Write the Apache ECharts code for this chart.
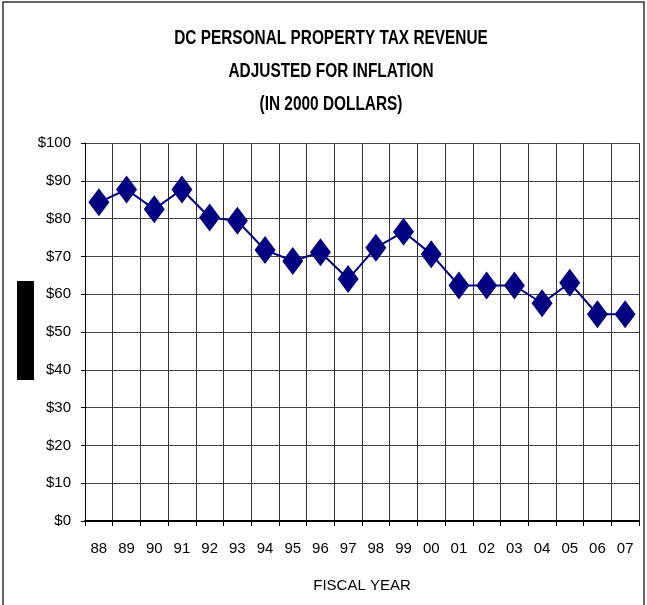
<!DOCTYPE html>
<html>
<head>
<meta charset="utf-8">
<script src="https://cdn.jsdelivr.net/npm/echarts@6/dist/echarts.min.js"></script>
<style>
  html, body { margin: 0; padding: 0; background: #fff; }
  #chart { width: 647px; height: 605px; }
</style>
</head>
<body>
<div id="chart"></div>
<script>
const years = ['88', '89', '90', '91', '92', '93', '94', '95', '96', '97',
    '98', '99', '00', '01', '02', '03', '04', '05', '06', '07']
const revenue = [84.3, 87.7, 82.5, 87.7, 80.3, 79.4, 71.7, 68.8, 71.1, 64.0,
    72.3, 76.5, 70.6, 62.3, 62.3, 62.3, 57.6, 63.0, 54.7, 54.7]
const titleLines = ['DC PERSONAL PROPERTY TAX REVENUE', 'ADJUSTED FOR INFLATION', '(IN 2000 DOLLARS)']

const font = '"Liberation Sans", Arial, sans-serif'
const chart = echarts.init(document.getElementById('chart'))

// title drawn as squeezed text, the original uses a narrow face
const titleGraphics = titleLines.map((line, i) => ({
    type: 'text',
    x: 331,
    y: 38 + i * 33,
    scaleX: 0.77,
    style: {
        text: line,
        x: 0,
        y: 0,
        align: 'center',
        verticalAlign: 'middle',
        fontFamily: font,
        fontWeight: 'bold',
        fontSize: 20,
        fill: '#000'
    }
}))

const option = {
    backgroundColor: '#fff',
    animation: false,
    graphic: [
        {
            type: 'rect',
            shape: { x: 3, y: 2, width: 641, height: 620 },
            style: { fill: 'none', stroke: '#333', lineWidth: 1.5 }
        },
        {
            type: 'rect',
            shape: { x: 17, y: 281, width: 17, height: 99 },
            style: { fill: '#000' }
        }
    ].concat(titleGraphics),
    grid: {
        left: 85,
        right: 8,
        top: 143,
        bottom: 84
    },
    xAxis: {
        type: 'category',
        data: years,
        boundaryGap: true,
        name: 'FISCAL YEAR',
        nameLocation: 'middle',
        nameGap: 57,
        nameTextStyle: { fontFamily: font, fontSize: 15, color: '#000' },
        axisLine: { show: true, lineStyle: { color: '#000', width: 2 } },
        axisTick: { show: true, length: 5, lineStyle: { color: '#000' } },
        axisLabel: { fontFamily: font, fontSize: 15, color: '#000', margin: 20 },
        splitLine: { show: true, interval: 0, lineStyle: { color: '#333', width: 1 } }
    },
    yAxis: {
        type: 'value',
        min: 0,
        max: 100,
        interval: 10,
        axisLine: { show: true, lineStyle: { color: '#000', width: 1 } },
        axisTick: { show: true, length: 4, lineStyle: { color: '#000' } },
        axisLabel: {
            fontFamily: font,
            fontSize: 15,
            color: '#000',
            margin: 14,
            formatter: v => '$' + v
        },
        splitLine: { show: true, lineStyle: { color: '#444', width: 1 } }
    },
    series: [{
        type: 'line',
        data: revenue,
        symbol: 'diamond',
        symbolSize: [21, 28],
        lineStyle: { color: '#000080', width: 2 },
        itemStyle: { color: '#000080' }
    }]
}
chart.setOption(option)
</script>
</body>
</html>
